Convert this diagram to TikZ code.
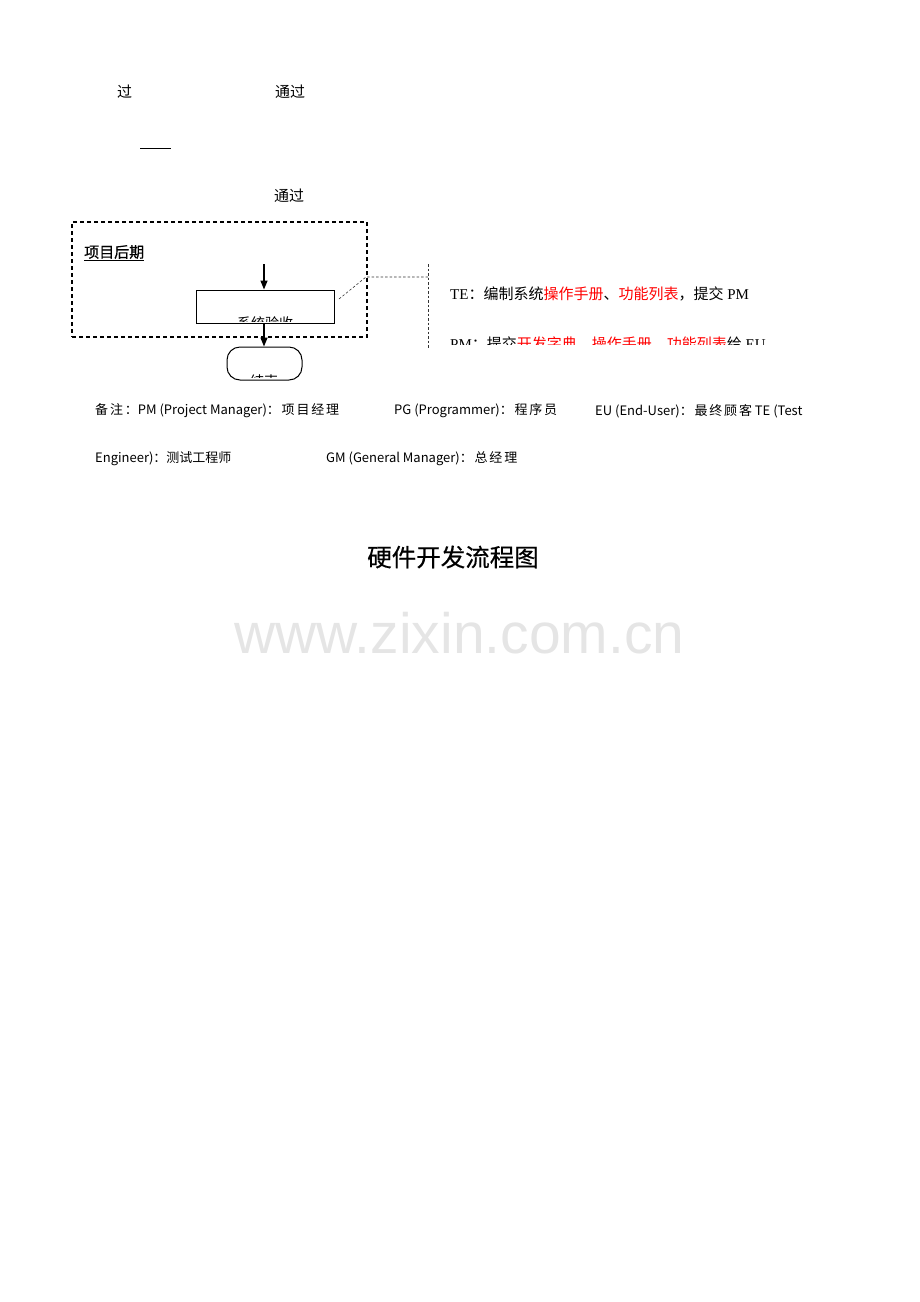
\documentclass[tikz,border=0pt]{standalone}
\usepackage{fontspec}
\setmainfont{Liberation Serif}
\newfontfamily\cjk{Noto Sans CJK SC}
\newfontfamily\cjks[LetterSpace=14]{Noto Sans CJK SC}
\newfontfamily\cjkt[FakeBold=0.5]{Noto Sans CJK SC}
\newfontfamily\wm{Liberation Sans}
\usetikzlibrary{arrows.meta}
\begin{document}
\begin{tikzpicture}[x=1pt,y=1pt,
  txt/.style={inner sep=0pt,anchor=west},
  btxt/.style={inner sep=0pt,anchor=base west},
  arr/.style={line width=1.4pt,-{Triangle[length=9pt,width=7pt]}},
  phase/.style={draw,line width=1.2pt,dash pattern=on 4pt off 3pt},
  leader/.style={draw,line width=0.6pt,dash pattern=on 2.5pt off 2pt,black!80},
  proc/.style={draw,line width=1pt,minimum width=138pt,minimum height=33pt,inner sep=0pt},
  term/.style={draw,line width=1pt,rounded corners=13pt,minimum width=75pt,minimum height=33pt,inner sep=0pt},
  note/.style={inner sep=0pt,anchor=west,font=\cjk\fontsize{13}{15}\selectfont},
]
\useasboundingbox (0,0) rectangle (920,-1302);
% top fragments
\node[txt,font=\cjk\fontsize{15}{17}\selectfont] (g1) at (117,-92) {过};
\node[txt,font=\cjk\fontsize{15}{17}\selectfont] (g2) at (275,-92) {通过};
\coordinate (d1) at (140,-148);
\coordinate (d2) at (171,-148);
\draw[line width=1pt] (d1) -- (d2);
\node[txt,font=\cjk\fontsize{15}{17}\selectfont] (g3) at (274,-196) {通过};
% phase box
\node[phase,minimum width=295pt,minimum height=115pt,inner sep=0pt] (phase) at (219.5,-279.5) {};
\node[txt,font=\cjkt\fontsize{15}{17}\selectfont] (ptitle) at (84,-253) {\underline{项目后期}};
% process
\coordinate (start) at (264,-264);
\node[proc] (sys) at (265,-306.5) {};
\node[term] (end) at (264.5,-363.5) {};
\draw[arr] (start) -- (sys.north -| start);
\draw[arr] (sys.south -| start) -- (end.north -| start);
\begin{scope}
  \clip (197,-311) rectangle (333,-321.3);
  \node[inner sep=0pt,anchor=base,font=\cjk\fontsize{14}{16}\selectfont] (syslab) at (265,-328) {系统验收};
\end{scope}
\begin{scope}
  \clip (230,-366) rectangle (300,-377.8);
  \node[inner sep=0pt,anchor=base,font=\cjk\fontsize{14}{16}\selectfont] (endlab) at (264,-386.5) {结束};
\end{scope}
% leader
\coordinate (l1) at (339,-299);
\coordinate (l2) at (366,-277);
\coordinate (l3) at (428,-277);
\coordinate (v1) at (428,-264);
\coordinate (v2) at (428,-348);
\draw[leader] (l1) -- (l2) -- (l3);
\draw[leader] (v1) -- (v2);
% annotation text
\node[txt,font=\fontsize{15}{17}\selectfont] (te) at (450,-294)
 {TE{\cjk ：编制系统}\textcolor{red}{\cjk 操作手册}{\cjk 、}\textcolor{red}{\cjk 功能列表}{\cjk ，提交} PM};
\begin{scope}
  \clip (440,-330) rectangle (800,-344.5);
  \node[btxt,font=\fontsize{15}{17}\selectfont] (pm) at (450,-349)
   {PM{\cjk ：提交}\textcolor{red}{\cjk 开发字典}{\cjk 、}\textcolor{red}{\cjk 操作手册}{\cjk 、}\textcolor{red}{\cjk 功能列表}{\cjk 给} EU};
\end{scope}
% notes
\node[note] (n1) at (95,-411) {{\cjks 备注：}PM (Project Manager){\cjks ：项目经理}};
\node[note] (n2) at (394,-411) {PG (Programmer){\cjks ：程序员}};
\node[note] (n3) at (595,-411) {EU (End-User){\cjks ：最终顾客} TE (Test};
\node[note] (n4) at (95,-459) {Engineer){\cjk ：测试工程师}};
\node[note] (n5) at (326,-459) {GM (General Manager){\cjks ：总经理}};
% title
\node[inner sep=0pt,font=\cjkt\fontsize{24.5}{28}\selectfont] (title) at (453,-557) {硬件开发流程图};
% watermark
\node[inner sep=0pt,text=black!10,font=\wm\fontsize{57}{60}\selectfont] (wmk) at (459.5,-633) {www.zixin.com.cn};
\end{tikzpicture}
\end{document}
